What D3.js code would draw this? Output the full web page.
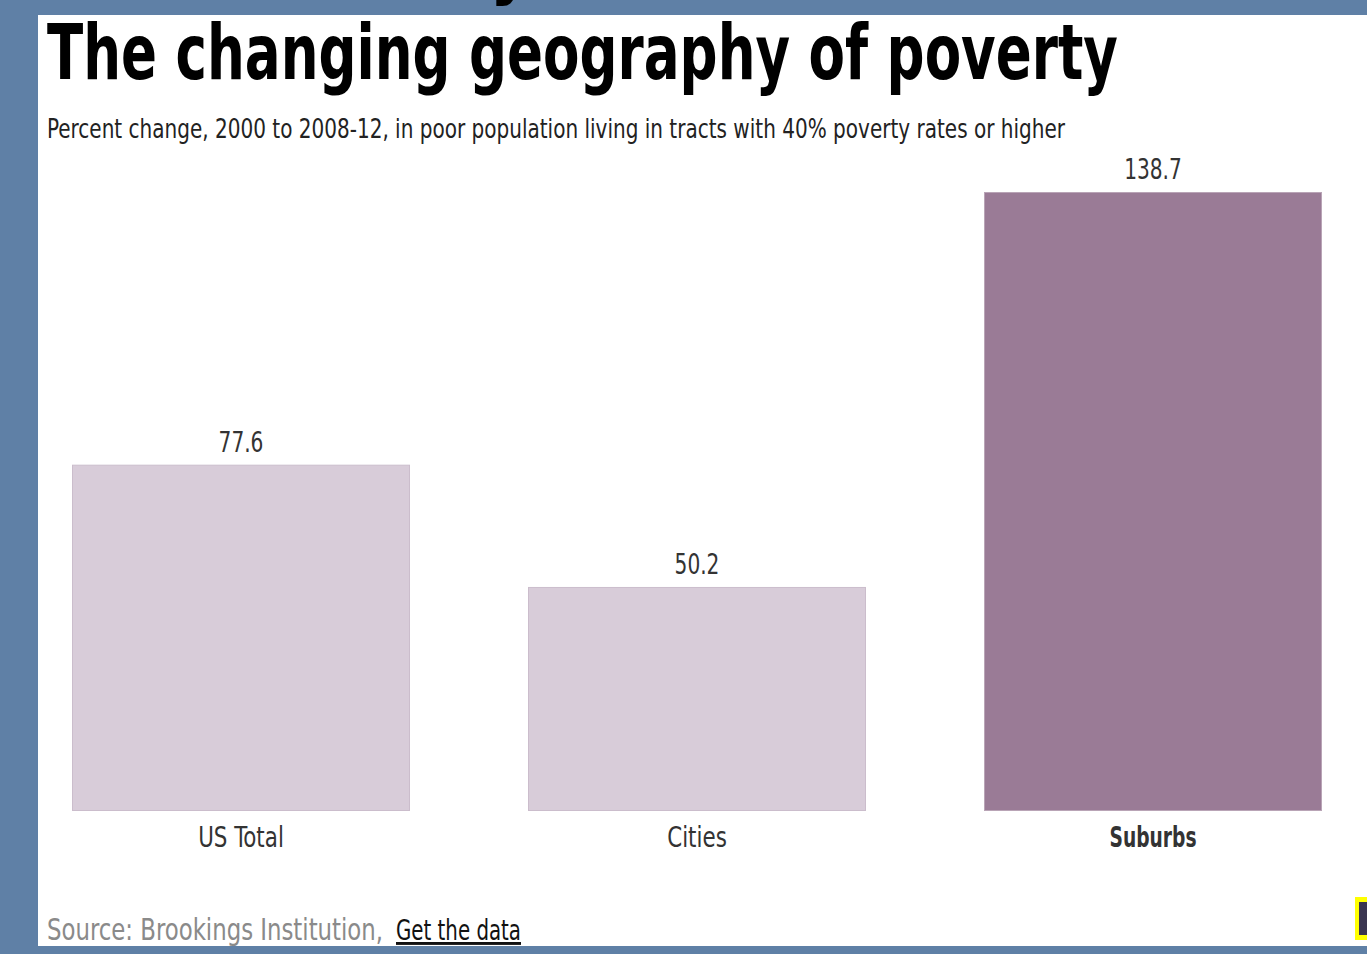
<!DOCTYPE html>
<html><head><meta charset="utf-8">
<script src="https://cdn.jsdelivr.net/npm/d3@7"></script>
<style>
html,body{margin:0;padding:0;background:#5f80a6;}
svg{display:block;}
text{font-family:"Liberation Sans Narrow","DejaVu Sans Condensed","Liberation Sans",sans-serif;}
</style></head>
<body>
<svg id="chart" width="1367" height="954"></svg>
<script>
const categories = ["US Total", "Cities", "Suburbs"];
const values = [77.6, 50.2, 138.7];
const highlighted = [false, false, true];
const titleText = "The changing geography of poverty";
const subtitleText = "Percent change, 2000 to 2008-12, in poor population living in tracts with 40% poverty rates or higher";
const sourceText = "Source: Brookings Institution,";
const linkText = "Get the data";

const svg = d3.select("#chart");
svg.append("rect").attr("x",0).attr("y",0).attr("width",1367).attr("height",954).attr("fill","#5f80a6");
svg.append("rect").attr("x",38).attr("y",15).attr("width",1329).attr("height",931).attr("fill","#ffffff");

// fragment of text from above, only its descender visible
svg.append("text").attr("x",490).attr("y",-9).attr("font-size",70).attr("font-weight","bold")
  .attr("fill","#000").text("y");

function fitText(sel, w){ sel.attr("textLength", w).attr("lengthAdjust","spacingAndGlyphs"); return sel; }
function condense(sel, f){
  sel.each(function(){ const w = this.getComputedTextLength(); d3.select(this).attr("textLength", w*f).attr("lengthAdjust","spacingAndGlyphs"); });
}

fitText(svg.append("text").attr("x",47).attr("y",79).attr("font-size",76).attr("font-weight","bold")
  .attr("fill","#000").text(titleText), 1071);
fitText(svg.append("text").attr("x",47).attr("y",138).attr("font-size",27)
  .attr("fill","#222").text(subtitleText), 1018);

const x = d3.scaleBand().domain(categories).range([13,1381]).paddingInner(0.2588).paddingOuter(0.1294);
const y = d3.scaleLinear().domain([0,138.7]).range([811,192]);

const g = svg.append("g");
g.selectAll("rect.bar").data(categories).join("rect").attr("class","bar")
  .attr("x", d=>x(d)+0.5).attr("y", (d,i)=>y(values[i])+0.5)
  .attr("width", x.bandwidth()-1).attr("height",(d,i)=>y(0)-y(values[i])-1)
  .attr("fill",(d,i)=>highlighted[i]?"#9a7b96":"#d8ccd9")
  .attr("stroke",(d,i)=>highlighted[i]?"#b9a4b6":"#cbbdcc").attr("stroke-width",1);

const vals = g.selectAll("text.val").data(categories).join("text").attr("class","val")
  .attr("x", d=>x(d)+x.bandwidth()/2).attr("y",(d,i)=>y(values[i])-13)
  .attr("text-anchor","middle").attr("font-size",28).attr("fill","#333")
  .text((d,i)=>values[i].toFixed(1));
condense(vals, 0.8);

const xAxis = d3.axisBottom(x).tickSize(0).tickPadding(0);
const ax = svg.append("g").attr("transform","translate(0,811)").call(xAxis);
ax.attr("font-family",null).attr("font-size",null);
ax.select(".domain").remove();
const ticks = ax.selectAll(".tick text").attr("y",36).attr("dy",0).attr("font-size",28).attr("fill","#333")
  .attr("font-weight",(d,i)=>highlighted[i]?"bold":"normal");
ticks.each(function(d,i){ const w=this.getComputedTextLength(); d3.select(this).attr("textLength", w*(highlighted[i]?0.74:0.85)).attr("lengthAdjust","spacingAndGlyphs"); });

const src = svg.append("text").attr("x",47).attr("y",940).attr("font-size",31).attr("fill","#8a8a8a");
fitText(src.text(sourceText), 336);
const lk = svg.append("text").attr("x",396).attr("y",940).attr("font-size",29).attr("fill","#111").attr("text-decoration","underline");
fitText(lk.text(linkText), 125);

svg.append("rect").attr("x",1355).attr("y",897).attr("width",12).attr("height",43).attr("fill","#ffff00");
svg.append("rect").attr("x",1359).attr("y",902).attr("width",8).attr("height",33).attr("fill","#3a3550");
</script>
</body></html>
